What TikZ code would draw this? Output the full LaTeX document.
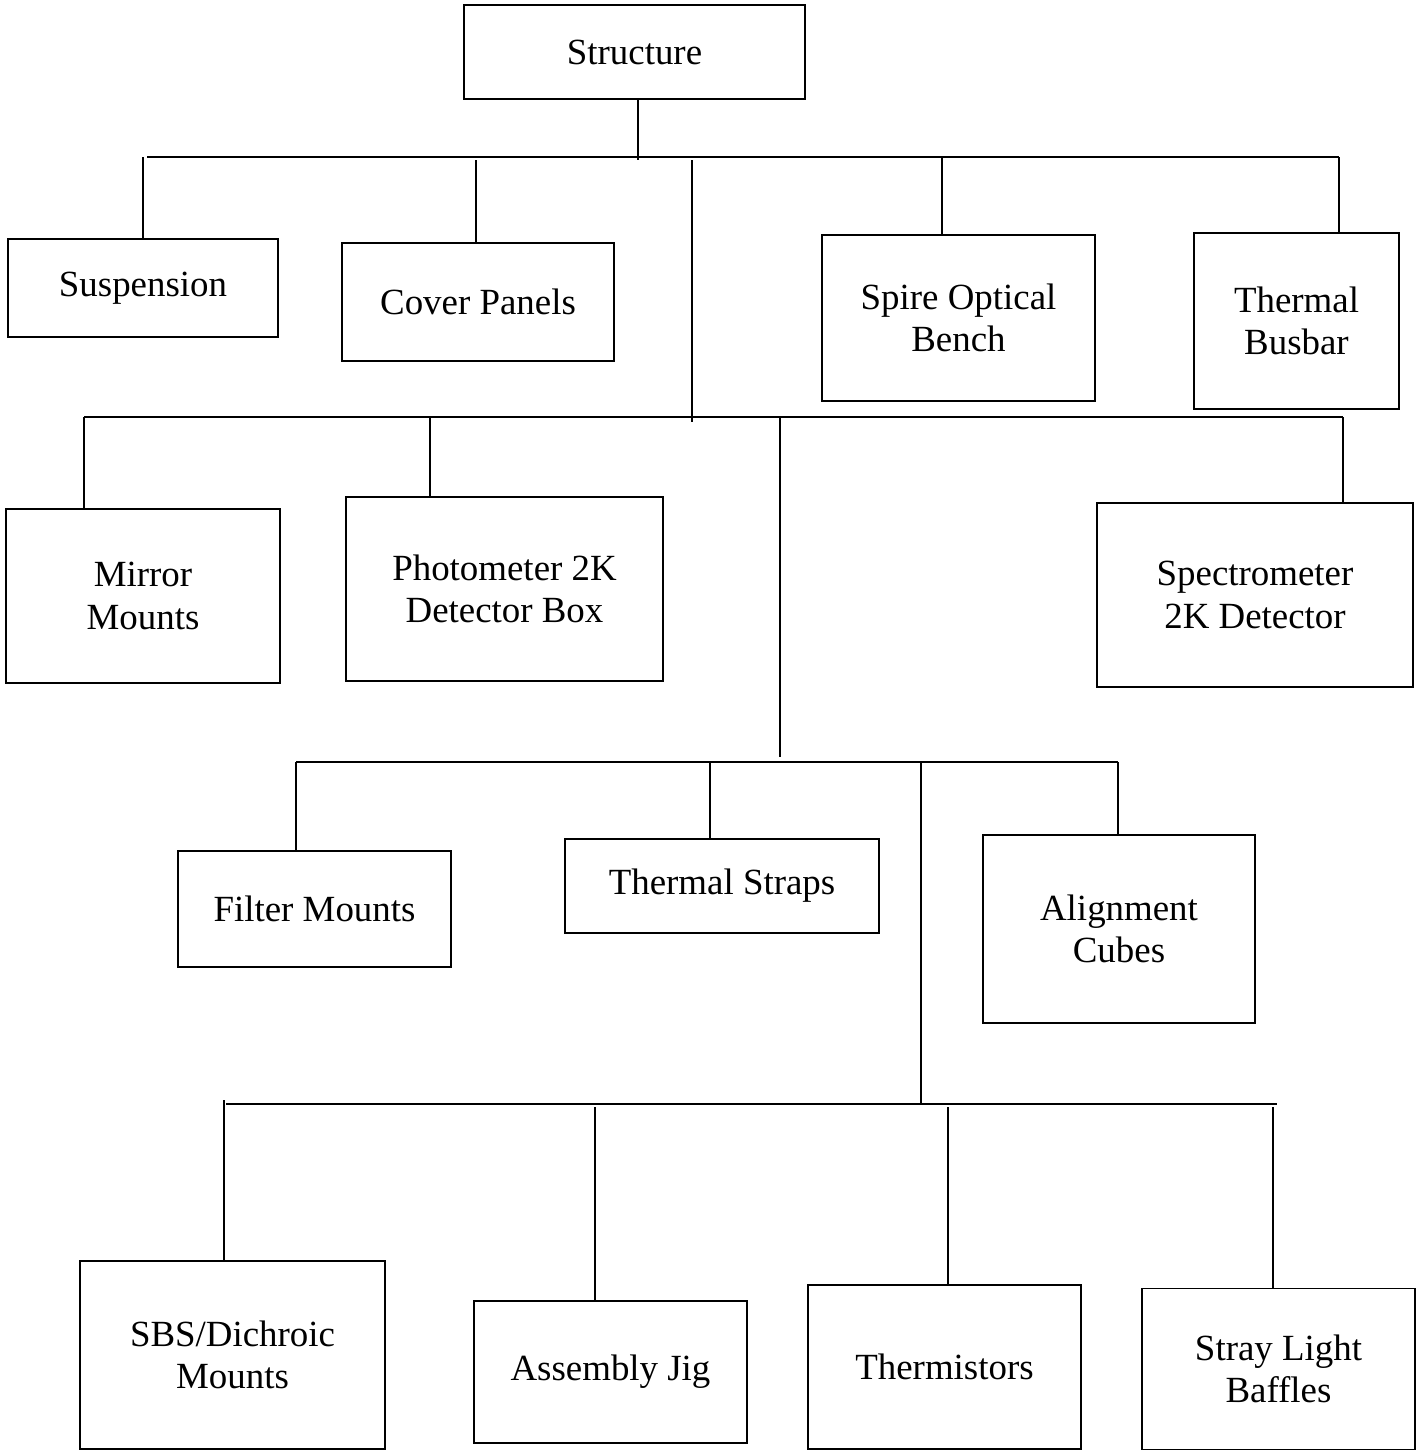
\documentclass[tikz,border=0pt]{standalone}
\usepackage{fontspec}
\setmainfont{Liberation Serif}
\usetikzlibrary{positioning}

\begin{document}
\begin{tikzpicture}[
    x=0.02cm, y=-0.02cm,
    line width=0.8pt,
    box/.style={rectangle, draw, inner sep=0pt, outer sep=0pt, align=center,
                font=\fontsize{21}{24}\selectfont},
    bus/.style={draw}
]
\useasboundingbox (0,0) rectangle (1422,1451);

% Top
\node[box, minimum width=6.82cm, minimum height=1.88cm] (top) at (634.5,52) {Structure};

% First level
\node[box, minimum width=5.4cm, minimum height=1.96cm] (susp) at (143,288) {Suspension};
\node[box, minimum width=5.44cm, minimum height=2.36cm] (cover) at (478,302) {Cover Panels};
\node[box, minimum width=5.46cm, minimum height=3.32cm] (bench) at (958.5,318) {Spire Optical \\ Bench};
\node[box, minimum width=4.1cm, minimum height=3.52cm] (busbar) at (1296.5,321) {Thermal \\ Busbar};

% Second level
\node[box, minimum width=5.48cm, minimum height=3.48cm] (mirror) at (143,596) {Mirror \\ Mounts};
\node[box, minimum width=6.34cm, minimum height=3.68cm] (photo) at (504.5,589) {Photometer 2K \\ Detector Box};
\node[box, minimum width=6.32cm, minimum height=3.68cm] (spectro) at (1255,595) {Spectrometer \\ 2K Detector};

% Third level
\node[box, minimum width=5.46cm, minimum height=2.32cm] (filter) at (314.5,909) {Filter Mounts};
\node[box, minimum width=6.28cm, minimum height=1.88cm] (straps) at (722,886) {Thermal Straps};
\node[box, minimum width=5.44cm, minimum height=3.76cm] (cubes) at (1119,929) {Alignment \\ Cubes};

% Fourth level
\node[box, minimum width=6.1cm, minimum height=3.76cm] (sbs) at (232.5,1355) {SBS/Dichroic \\ Mounts};
\node[box, minimum width=5.46cm, minimum height=2.84cm] (jig) at (610.5,1372) {Assembly Jig};
\node[box, minimum width=5.46cm, minimum height=3.28cm] (therm) at (944.5,1367) {Thermistors};
\node[box, minimum width=5.46cm, minimum height=3.22cm] (baffles) at (1278.5,1369) {Stray Light \\ Baffles};

% Bus lines
\coordinate (b1l) at (147,157);
\coordinate (b1r) at (1339,157);
\coordinate (b2l) at (84,417);
\coordinate (b2r) at (1343,417);
\coordinate (b3l) at (296,762);
\coordinate (b3r) at (1118,762);
\coordinate (b4l) at (226,1104);
\coordinate (b4r) at (1277,1104);
\draw (b1l) -- (b1r);
\draw (b2l) -- (b2r);
\draw (b3l) -- (b3r);
\draw (b4l) -- (b4r);

% Drops
\coordinate (d0) at (638,160);
\draw (d0 |- top.south) -- (d0);

\coordinate (d1) at (143,157);
\coordinate (d2) at (476,160);
\coordinate (d3) at (692,160);
\coordinate (d4) at (942,157);
\coordinate (d5) at (1339,157);
\draw (d1) -- (d1 |- susp.north);
\draw (d2) -- (d2 |- cover.north);
\draw (d3) -- (692,422);
\draw (d4) -- (d4 |- bench.north);
\draw (d5) -- (d5 |- busbar.north);

\coordinate (e1) at (84,417);
\coordinate (e2) at (430,417);
\coordinate (e3) at (780,417);
\coordinate (e4) at (1343,417);
\draw (e1) -- (e1 |- mirror.north);
\draw (e2) -- (e2 |- photo.north);
\draw (e3) -- (780,757);
\draw (e4) -- (e4 |- spectro.north);

\coordinate (f1) at (296,762);
\coordinate (f2) at (710,762);
\coordinate (f3) at (921,762);
\coordinate (f4) at (1118,762);
\draw (f1) -- (f1 |- filter.north);
\draw (f2) -- (f2 |- straps.north);
\draw (f3) -- (921,1105);
\draw (f4) -- (f4 |- cubes.north);

\coordinate (g1) at (224,1100);
\coordinate (g2) at (595,1107);
\coordinate (g3) at (948,1107);
\coordinate (g4) at (1273,1107);
\draw (g1) -- (g1 |- sbs.north);
\draw (g2) -- (g2 |- jig.north);
\draw (g3) -- (g3 |- therm.north);
\draw (g4) -- (g4 |- baffles.north);

\end{tikzpicture}
\end{document}
